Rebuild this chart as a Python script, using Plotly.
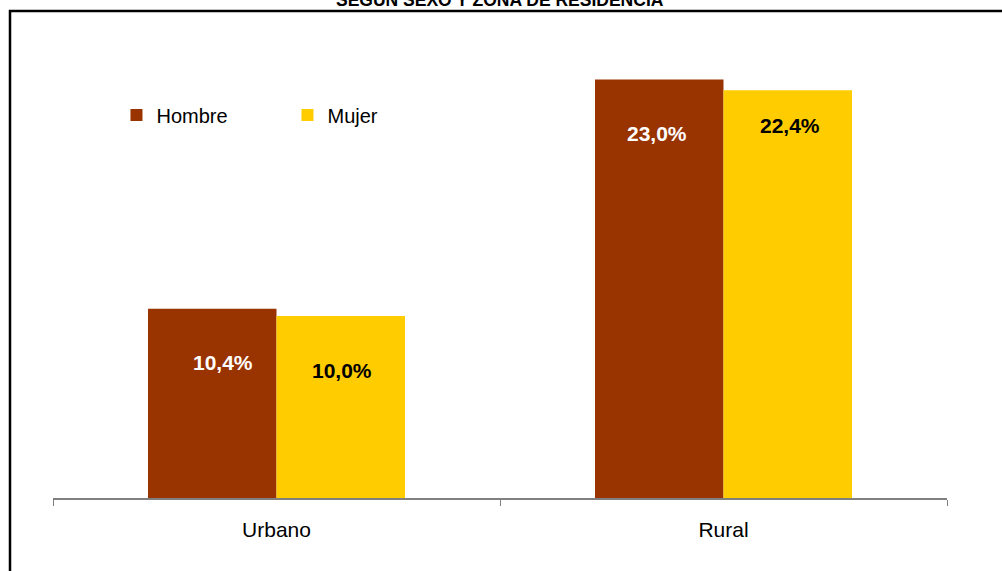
import plotly.graph_objects as go

categories = ["Urbano", "Rural"]
hombre = [10.4, 23.0]
mujer = [10.0, 22.4]
hombre_labels = ["10,4%", "23,0%"]
mujer_labels = ["10,0%", "22,4%"]
title_text = "SEGÚN SEXO Y ZONA DE RESIDENCIA"

C_H = "#993300"
C_M = "#FFCC00"

fig = go.Figure()
fig.add_trace(go.Bar(name="Hombre", x=categories, y=hombre, marker=dict(color=C_H, line=dict(width=0))))
fig.add_trace(go.Bar(name="Mujer", x=categories, y=mujer, marker=dict(color=C_M, line=dict(width=0))))

# value label placement (styling only)
h_xshift = [-54, -67]
h_yshift = [-54, -54]
m_xshift = [65, 66]
m_yshift = [-54, -35]
for i, c in enumerate(categories):
    fig.add_annotation(x=c, y=hombre[i], text=f"<b>{hombre_labels[i]}</b>", showarrow=False,
                       xshift=h_xshift[i], yshift=h_yshift[i],
                       font=dict(family="Arial", size=21, color="white"))
    fig.add_annotation(x=c, y=mujer[i], text=f"<b>{mujer_labels[i]}</b>", showarrow=False,
                       xshift=m_xshift[i], yshift=m_yshift[i],
                       font=dict(family="Arial", size=21, color="black"))

# title sits mostly above the top edge (cut off, as in the reference)
fig.add_annotation(xref="paper", yref="paper", x=0.5, y=1.0703, yanchor="bottom",
                   text=f"<b>{title_text}</b>", showarrow=False, borderpad=0,
                   font=dict(family="Arial", size=17.5, color="black"))

fig.add_shape(type="rect", xref="paper", yref="paper", x0=-0.0481, x1=1.2, y0=-0.5, y1=1.0703,
              line=dict(color="black", width=2.5), fillcolor="rgba(0,0,0,0)", layer="above")

fig.update_layout(
    width=1002, height=571,
    margin=dict(l=53, r=55, t=43, b=73),
    paper_bgcolor="white", plot_bgcolor="white",
    barmode="group", bargap=0.425, bargroupgap=0,
    showlegend=True,
    legend=dict(orientation="h", x=0.071, y=0.842, xanchor="left", yanchor="middle",
                font=dict(family="Arial", size=20, color="black"), bgcolor="rgba(0,0,0,0)",
                entrywidth=126, itemwidth=30),
    xaxis=dict(showline=True, linecolor="#808080", linewidth=1.5, ticks="outside", tickson="boundaries",
               ticklen=6, tickcolor="#808080", tickfont=dict(family="Arial", size=21, color="black"),
               showgrid=False, ticklabelstandoff=12),
    yaxis=dict(range=[0, 25], visible=False, showgrid=False, zeroline=False),
)

fig.write_html("out.html", config={"displayModeBar": False},
               post_script="document.body.style.margin='0';")
